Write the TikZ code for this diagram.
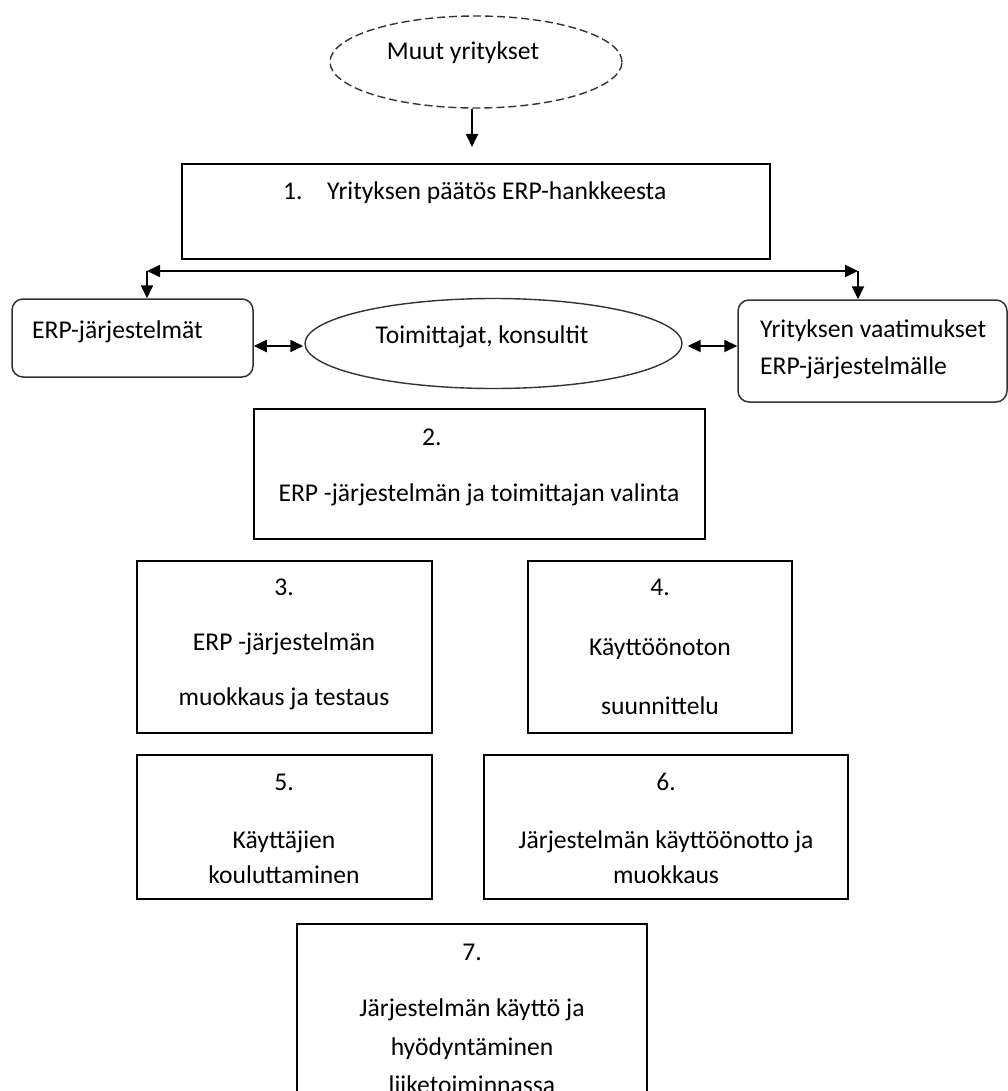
\documentclass[tikz,border=0pt]{standalone}
\usepackage{fontspec}
\setmainfont{Carlito}
\usetikzlibrary{arrows.meta,shapes.geometric}

\begin{document}
\begin{tikzpicture}[x=1pt,y=-1pt,
  font=\fontsize{25.6}{30}\selectfont,
  box/.style={draw, line width=1.5pt, inner sep=0pt},
  roundbox/.style={box, rounded corners=11pt, draw=black!80},
  oval/.style={draw, ellipse, line width=1.4pt, inner sep=0pt, draw=black!80},
  txt/.style={anchor=base, inner sep=0pt},
  ltxt/.style={anchor=base west, inner sep=0pt},
  tip/.tip={Triangle[length=13pt,width=12pt]},
  arr/.style={line width=1.8pt, -tip},
  dbl/.style={line width=1.8pt, tip-tip}]
\path[use as bounding box, clip] (0,0) rectangle (1008,1091);

% shapes
\node[oval, dashed, dash pattern=on 8pt off 4pt, minimum width=292pt, minimum height=92pt] (muut) at (476,62) {};
\node[box, minimum width=588pt, minimum height=95pt] (s1) at (476,211.5) {};
\node[roundbox, minimum width=241pt, minimum height=78pt] (erp) at (132.5,338) {};
\node[oval, minimum width=377pt, minimum height=90pt] (toim) at (493.5,343.5) {};
\node[roundbox, minimum width=269pt, minimum height=102pt] (req) at (872.5,351) {};
\node[box, minimum width=451pt, minimum height=130pt] (s2) at (479.5,474) {};
\node[box, minimum width=295pt, minimum height=172pt] (s3) at (284.5,647) {};
\node[box, minimum width=264pt, minimum height=172pt] (s4) at (660,647) {};
\node[box, minimum width=295pt, minimum height=144pt] (s5) at (284.5,827) {};
\node[box, minimum width=364pt, minimum height=144pt] (s6) at (666,827) {};
\node[box, minimum width=350pt, minimum height=200pt] (s7) at (472,1024) {};

% texts
\node[txt] (tmuut) at (463,60) {Muut yritykset};
\node[ltxt] (t1n) at (283,200) {1.};
\node[ltxt] (t1) at (327,200) {Yrityksen päätös ERP-hankkeesta};
\node[ltxt] (terp) at (32,338) {ERP-järjestelmät};
\node[txt] (ttoim) at (482,343) {Toimittajat, konsultit};
\node[ltxt] (treq1) at (760,337) {Yrityksen vaatimukset};
\node[ltxt] (treq2) at (760,374) {ERP-järjestelmälle};
\node[ltxt] (t2n) at (422,445) {2.};
\node[txt] (t2) at (479,501) {ERP -järjestelmän ja toimittajan valinta};
\node[txt] (t3n) at (284,595) {3.};
\node[txt] (t3a) at (284,650) {ERP -järjestelmän};
\node[txt] (t3b) at (284,705) {muokkaus ja testaus};
\node[txt] (t4n) at (660,595) {4.};
\node[txt] (t4a) at (660,655) {Käyttöönoton};
\node[txt] (t4b) at (660,714) {suunnittelu};
\node[txt] (t5n) at (284,790) {5.};
\node[txt] (t5a) at (284,848) {Käyttäjien};
\node[txt] (t5b) at (284,883) {kouluttaminen};
\node[txt] (t6n) at (666,790) {6.};
\node[txt] (t6a) at (666,848) {Järjestelmän käyttöönotto ja};
\node[txt] (t6b) at (666,883) {muokkaus};
\node[txt] (t7n) at (472,960) {7.};
\node[txt] (t7a) at (472,1016) {Järjestelmän käyttö ja};
\node[txt] (t7b) at (472,1055) {hyödyntäminen};
\node[txt] (t7c) at (472,1093) {liiketoiminnassa};

% connectors
\coordinate (down) at (472,147);
\draw[arr] (muut.south -| down) -- (down);
\coordinate (hl) at (147,271);
\coordinate (hr) at (858,271);
\draw[dbl] (hl) -- (hr);
\draw[arr] (hl) -- (erp.north -| hl);
\draw[arr] (hr) -- (req.north -| hr);
\coordinate (lvl) at (0,346);
\draw[dbl] (erp.east |- lvl) -- ([xshift=-1pt]toim.west |- lvl);
\draw[dbl] ([xshift=5pt]toim.east |- lvl) -- (req.west |- lvl);
\end{tikzpicture}
\end{document}
